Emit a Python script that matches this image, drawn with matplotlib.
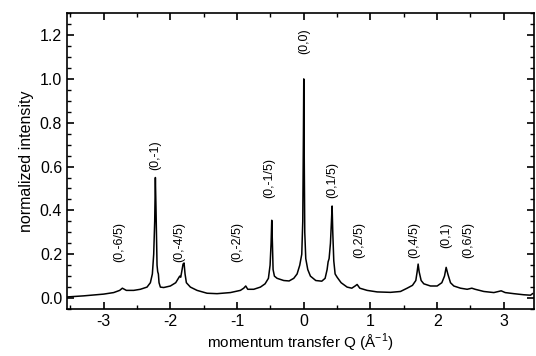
import matplotlib
matplotlib.use("Agg")
import matplotlib.pyplot as plt
from matplotlib.ticker import MultipleLocator

plt.rcParams['font.family'] = ['Liberation Sans', 'DejaVu Sans']
plt.rcParams['axes.unicode_minus'] = False
plt.rcParams['mathtext.fontset'] = 'custom'
plt.rcParams['mathtext.rm'] = 'Liberation Sans'

# momentum transfer Q (1/A) and normalized intensity
q = [-3.55, -3.30, -3.00, -2.85, -2.76, -2.72, -2.66, -2.55, -2.45, -2.35,
     -2.30, -2.27, -2.25, -2.235, -2.225, -2.215, -2.20, -2.19, -2.18, -2.17,
     -2.15, -2.10, -2.00, -1.92, -1.88, -1.86, -1.845, -1.83, -1.81, -1.795,
     -1.78, -1.76, -1.70, -1.60, -1.45, -1.30, -1.10, -0.95, -0.90, -0.87,
     -0.84, -0.75, -0.65, -0.58, -0.53, -0.505, -0.49, -0.48, -0.47, -0.46,
     -0.44, -0.40, -0.30, -0.22, -0.15, -0.10, -0.06, -0.03, -0.015, -0.005,
     0.0, 0.008, 0.015, 0.03, 0.06, 0.10, 0.18, 0.27, 0.32, 0.35,
     0.365, 0.38, 0.40, 0.415, 0.425, 0.435, 0.45, 0.47, 0.50, 0.56,
     0.65, 0.72, 0.77, 0.80, 0.84, 0.95, 1.10, 1.30, 1.45, 1.55,
     1.63, 1.68, 1.70, 1.715, 1.73, 1.76, 1.80, 1.90, 2.00, 2.07,
     2.11, 2.135, 2.16, 2.20, 2.25, 2.35, 2.45, 2.52, 2.57, 2.70,
     2.85, 2.92, 2.96, 3.02, 3.15, 3.30, 3.40, 3.43]
intensity = [0.005, 0.010, 0.018, 0.025, 0.035, 0.045, 0.035, 0.035, 0.040, 0.050,
             0.070, 0.110, 0.200, 0.350, 0.550, 0.400, 0.150, 0.120, 0.110, 0.070,
             0.050, 0.048, 0.055, 0.070, 0.090, 0.100, 0.095, 0.120, 0.155, 0.160,
             0.110, 0.070, 0.050, 0.035, 0.022, 0.020, 0.025, 0.035, 0.045, 0.055,
             0.040, 0.040, 0.050, 0.065, 0.090, 0.150, 0.250, 0.355, 0.250, 0.130,
             0.100, 0.090, 0.080, 0.078, 0.090, 0.110, 0.150, 0.200, 0.350, 0.750,
             1.000, 0.600, 0.300, 0.180, 0.130, 0.100, 0.080, 0.077, 0.090, 0.130,
             0.165, 0.180, 0.250, 0.350, 0.420, 0.300, 0.170, 0.110, 0.095, 0.070,
             0.050, 0.045, 0.055, 0.062, 0.045, 0.035, 0.028, 0.026, 0.030, 0.045,
             0.058, 0.080, 0.120, 0.155, 0.120, 0.080, 0.065, 0.055, 0.055, 0.070,
             0.100, 0.140, 0.110, 0.070, 0.055, 0.045, 0.040, 0.045, 0.040, 0.030,
             0.025, 0.030, 0.033, 0.025, 0.020, 0.015, 0.013, 0.020]

# peak labels: text, Q position, height of the label's upper end
peak_labels = ["(0,-6/5)", "(0,-1)", "(0,-4/5)", "(0,-2/5)", "(0,-1/5)", "(0,0)",
               "(0,1/5)", "(0,2/5)", "(0,4/5)", "(0,1)", "(0,6/5)"]
label_q = [-2.76, -2.23, -1.86, -0.99, -0.51, 0.0, 0.42, 0.83, 1.66, 2.13, 2.47]
label_top = [0.345, 0.72, 0.345, 0.345, 0.64, 1.23, 0.62, 0.345, 0.345, 0.345, 0.345]

fig = plt.figure(figsize=(5.36, 3.56), dpi=100)
ax = fig.add_axes([0.125, 0.132, 0.871, 0.831])

ax.plot(q, intensity, color="black", lw=1.1)

for txt, x, y in zip(peak_labels, label_q, label_top):
    ax.text(x, y, txt, rotation=90, ha="center", va="top", fontsize=9)

ax.set_xlim(-3.55, 3.45)
ax.set_ylim(-0.05, 1.30)
ax.xaxis.set_major_locator(MultipleLocator(1))
ax.xaxis.set_minor_locator(MultipleLocator(0.5))
ax.yaxis.set_major_locator(MultipleLocator(0.2))
ax.yaxis.set_minor_locator(MultipleLocator(0.05))
ax.tick_params(which="both", direction="in", top=True, right=True, labelsize=11.5)
ax.tick_params(which="major", length=5, width=1.2)
ax.tick_params(which="minor", length=3, width=1.0)
ax.set_yticks([0.0, 0.2, 0.4, 0.6, 0.8, 1.0, 1.2])
ax.set_yticklabels(["0.0", "0.2", "0.4", "0.6", "0.8", "1.0", "1.2"])
for s in ax.spines.values():
    s.set_linewidth(1.2)

ax.set_xlabel("momentum transfer Q (Å$^{-1}$)", fontsize=11, labelpad=2)
ax.set_ylabel("normalized intensity", fontsize=11.5, labelpad=4)

fig.savefig("out.png", dpi=100)
